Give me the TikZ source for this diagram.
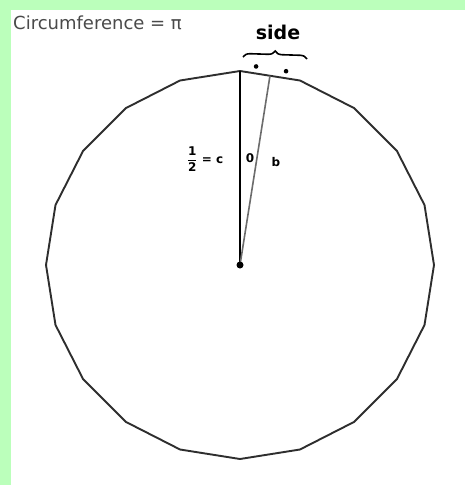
\documentclass[tikz,border=0pt]{standalone}
\usepackage{amsmath}
\usepackage{fontspec}
\setmainfont{DejaVu Sans}
\usetikzlibrary{calc,decorations.pathreplacing}
\definecolor{PageGreen}{HTML}{BBFFBB}
\definecolor{InkGray}{HTML}{2E2E2E}
\definecolor{TitleGray}{HTML}{4A4A4A}

\begin{document}
\begin{tikzpicture}[x=1pt,y=-1pt]
  % page and margins
  \fill[PageGreen] (0,0) rectangle (465,485);
  \fill[white] (11,10) rectangle (465,485);
  \useasboundingbox (0,0) rectangle (465,485);
  \node[font=\fontsize{18}{18}\selectfont,TitleGray,anchor=west,inner sep=0pt] (title) at (13,23) {Circumference = π};
  % the 20-gon
  \coordinate (O) at (240,265);
  \coordinate (T) at ($(O)+(-90:194)$);
  \coordinate (R) at ($(O)+(-72:194)$);
  \coordinate (M) at ($(T)!0.5!(R)$);
  \draw[InkGray,line width=1.9pt,line join=round] (T) \foreach \k in {1,...,19} { -- ($(O)+({-90+18*\k}:194)$) } -- cycle;
  \draw[black,line width=2.2pt] (O) -- (T);
  \draw[gray!85!black,line width=1.6pt] (O) -- (M);
  \fill[black] (O) circle (3.5);
  % halves of the side
  \fill[black] ($(T)!0.5!(M)+(-81:7)$) circle (2.3);
  \fill[black] ($(M)!0.5!(R)+(-81:7)$) circle (2.3);
  \draw[black,line width=1.6pt,decorate,decoration={brace,amplitude=7pt}] (243,57) -- (307,59);
  \node[font=\bfseries\fontsize{19}{19}\selectfont] (side) at (278,32) {side};
  % labels
  \node[font=\bfseries\fontsize{12}{12}\selectfont] (half) at (205,159) {$\dfrac{\mathbf{1}}{\mathbf{2}}$ = c};
  \node[font=\bfseries\fontsize{12}{12}\selectfont] (theta) at (250,158) {0};
  \node[font=\bfseries\fontsize{12}{12}\selectfont] (bside) at (276,162) {b};
\end{tikzpicture}
\end{document}
